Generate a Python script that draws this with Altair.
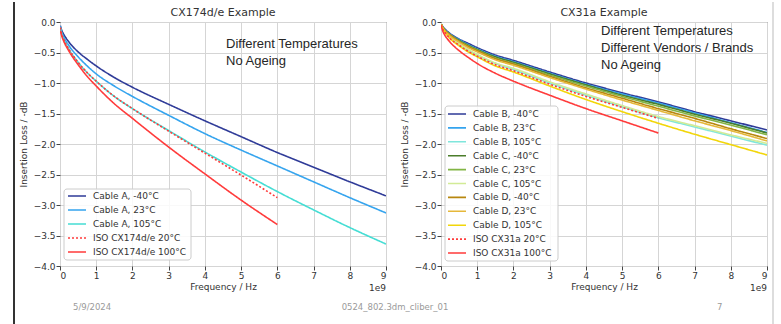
import altair as alt
import pandas as pd

# ---------------- data ----------------
freq = [0.01, 0.05, 0.1, 0.25, 0.5, 0.75, 1, 1.5, 2, 3, 4, 5, 6, 7, 8, 9]   # GHz
freq_iso = [0.01, 0.05, 0.1, 0.25, 0.5, 0.75, 1, 1.5, 2, 3, 4, 5, 6]

left_names = ["Cable A, -40°C", "Cable A, 23°C", "Cable A, 105°C",
              "ISO CX174d/e 20°C", "ISO CX174d/e 100°C"]
a_m40 = [-0.06, -0.14, -0.20, -0.33, -0.49, -0.61, -0.72, -0.91, -1.07, -1.35, -1.62, -1.88, -2.14, -2.38, -2.62, -2.85]
a_23 = [-0.07, -0.17, -0.24, -0.39, -0.57, -0.72, -0.85, -1.05, -1.22, -1.53, -1.83, -2.10, -2.36, -2.62, -2.88, -3.13]
a_105 = [-0.09, -0.20, -0.28, -0.45, -0.66, -0.83, -0.97, -1.22, -1.42, -1.78, -2.13, -2.46, -2.78, -3.08, -3.37, -3.64]
iso174_20 = [-0.09, -0.20, -0.28, -0.45, -0.66, -0.83, -0.97, -1.22, -1.42, -1.79, -2.15, -2.51, -2.88]
iso174_100 = [-0.14, -0.23, -0.31, -0.48, -0.70, -0.89, -1.05, -1.34, -1.58, -2.05, -2.49, -2.92, -3.32]
left_values = [a_m40, a_23, a_105, iso174_20, iso174_100]
left_colors = ["#2f3b98", "#35a4ee", "#45ddd4", "#ff3b3b", "#ff3b3b"]
left_dash = [[1, 0], [1, 0], [1, 0], [2, 2], [1, 0]]

right_names = ["Cable B, -40°C", "Cable B, 23°C", "Cable B, 105°C",
               "Cable C, -40°C", "Cable C, 23°C", "Cable C, 105°C",
               "Cable D, -40°C", "Cable D, 23°C", "Cable D, 105°C",
               "ISO CX31a 20°C", "ISO CX31a 100°C"]
b_m40 = [-0.04, -0.08, -0.11, -0.19, -0.28, -0.35, -0.42, -0.54, -0.63, -0.82, -1.00, -1.16, -1.31, -1.47, -1.62, -1.77]
b_23 = [-0.04, -0.08, -0.12, -0.20, -0.29, -0.37, -0.44, -0.56, -0.65, -0.84, -1.02, -1.18, -1.33, -1.49, -1.65, -1.81]
b_105 = [-0.05, -0.11, -0.16, -0.25, -0.37, -0.46, -0.54, -0.68, -0.78, -1.00, -1.20, -1.39, -1.57, -1.72, -1.87, -2.02]
c_m40 = [-0.04, -0.09, -0.13, -0.21, -0.30, -0.38, -0.45, -0.57, -0.66, -0.85, -1.03, -1.20, -1.35, -1.51, -1.66, -1.82]
c_23 = [-0.04, -0.09, -0.13, -0.21, -0.31, -0.39, -0.46, -0.59, -0.68, -0.87, -1.05, -1.22, -1.38, -1.54, -1.69, -1.85]
c_105 = [-0.05, -0.11, -0.15, -0.25, -0.36, -0.45, -0.53, -0.67, -0.76, -0.98, -1.18, -1.37, -1.55, -1.70, -1.85, -1.99]
d_m40 = [-0.04, -0.09, -0.13, -0.21, -0.32, -0.40, -0.47, -0.60, -0.69, -0.89, -1.08, -1.25, -1.42, -1.58, -1.75, -1.91]
d_23 = [-0.04, -0.10, -0.14, -0.23, -0.33, -0.42, -0.49, -0.62, -0.71, -0.91, -1.10, -1.28, -1.45, -1.62, -1.78, -1.95]
d_105 = [-0.05, -0.11, -0.16, -0.27, -0.39, -0.49, -0.57, -0.72, -0.82, -1.05, -1.27, -1.47, -1.66, -1.84, -2.01, -2.18]
iso31_20 = [-0.05, -0.12, -0.16, -0.27, -0.38, -0.48, -0.56, -0.70, -0.80, -1.02, -1.22, -1.40, -1.58]
iso31_100 = [-0.07, -0.15, -0.21, -0.33, -0.47, -0.58, -0.68, -0.84, -0.97, -1.20, -1.42, -1.62, -1.82]
right_values = [b_m40, b_23, b_105, c_m40, c_23, c_105, d_m40, d_23, d_105, iso31_20, iso31_100]
right_colors = ["#2f3b98", "#35a4ee", "#7fe6dc", "#4b7d2b", "#82b545", "#d2eb96",
                "#b8870f", "#e6b83a", "#f2d60a", "#ff3b3b", "#ff3b3b"]
right_dash = [[1, 0]] * 9 + [[2, 2], [1, 0]]

x_ticks = [0, 1, 2, 3, 4, 5, 6, 7, 8, 9]
y_ticks = [0.0, -0.5, -1.0, -1.5, -2.0, -2.5, -3.0, -3.5, -4.0]

titles = ["CX174d/e Example", "CX31a Example"]
notes = ["Different Temperatures\nNo Ageing",
         "Different Temperatures\nDifferent Vendors / Brands\nNo Ageing"]
footer = ["5/9/2024", "0524_802.3dm_cliber_01", "7"]

W, H = 326, 244
FONT = "DejaVu Sans"
FS = 9


def long_df(names, values):
    rows = []
    for n, vals in zip(names, values):
        fs = freq if len(vals) == len(freq) else freq_iso
        for f, v in zip(fs, vals):
            rows.append({"series": n, "f": f, "il": v})
    return pd.DataFrame(rows)


def text_layer(text, x, y, align="left", size=FS, font=FONT, color="#333", **kw):
    return alt.Chart(pd.DataFrame({"t": [text]})).mark_text(
        align=align, baseline="middle", fontSize=size, font=font, color=color, **kw
    ).encode(x=alt.value(x), y=alt.value(y), text="t:N")


def panel(names, values, colors, dashes, title, note, note_xy, leg, extras):
    df = long_df(names, values)
    color_enc = alt.Color("series:N", sort=names,
                          scale=alt.Scale(domain=names, range=colors), legend=None)
    dash_enc = alt.StrokeDash("series:N", sort=names,
                              scale=alt.Scale(domain=names, range=dashes), legend=None)
    axis_common = dict(grid=True, gridColor="#d5d5d5", domain=False,
                       tickSize=4, tickColor="#444", labelPadding=1,
                       labelFontSize=FS, labelColor="#333", labelFont=FONT,
                       titleFontSize=FS, titleFont=FONT, titleColor="#333",
                       titleFontWeight="normal")
    lines = alt.Chart(df).mark_line(strokeWidth=1.6, interpolate="monotone", clip=True).encode(
        x=alt.X("f:Q", scale=alt.Scale(domain=[0, 9], nice=False),
                axis=alt.Axis(values=x_ticks, format="d", title="Frequency / Hz",
                              titlePadding=2, **axis_common)),
        y=alt.Y("il:Q", scale=alt.Scale(domain=[-4, 0], nice=False),
                axis=alt.Axis(values=y_ticks, format=".1f", title="Insertion Loss / -dB",
                              titlePadding=5, **axis_common)),
        color=color_enc,
        strokeDash=dash_enc,
        order=alt.Order("f:Q"),
    )
    # legend built from the series names through a point scale
    leg_df = pd.DataFrame({"series": names})
    row_y = alt.Y("series:N", sort=names, axis=None,
                  scale=alt.Scale(type="point", domain=names, range=[leg["y0"], leg["y1"]], padding=0))
    frame = alt.Chart(pd.DataFrame({"k": [0]})).mark_rect(
        fill="white", fillOpacity=0.85, stroke="#cccccc", strokeWidth=1, cornerRadius=3
    ).encode(x=alt.value(4), x2=alt.value(leg["x2"]), y=alt.value(leg["top"]),
             y2=alt.value(leg["bottom"]))
    symbols = alt.Chart(leg_df).mark_rule(strokeWidth=1.6).encode(
        x=alt.value(leg["sx"]), x2=alt.value(leg["sx"] + 18), y=row_y,
        color=color_enc, strokeDash=dash_enc)
    labels = alt.Chart(leg_df).mark_text(
        align="left", baseline="middle", fontSize=FS, font=FONT, color="#333"
    ).encode(x=alt.value(leg["sx"] + 25), y=row_y, text="series:N")
    legend_layer = alt.layer(frame, symbols, labels)

    note_mark = text_layer(note, note_xy[0], note_xy[1], size=13, font="Liberation Sans",
                           color="#262626", lineBreak="\n", lineHeight=17)
    offset = text_layer("1e9", W, H + 22, align="right")
    title_mark = text_layer(title, W / 2, -9, align="center", size=11)
    layers = [lines, note_mark, offset, title_mark] + extras + [legend_layer]
    return alt.layer(*layers).properties(width=W, height=H).resolve_scale(y="independent")


def footer_text(text, x, align):
    return text_layer(text, x, 285, align=align, size=8.5, color="#9a9a9a")


left_border = alt.Chart(pd.DataFrame({"k": [0]})).mark_rule(color="#333", strokeWidth=2).encode(
    x=alt.value(-46), y=alt.value(-20), y2=alt.value(303))
right_border = alt.Chart(pd.DataFrame({"k": [0]})).mark_rule(color="#bbbbbb", strokeWidth=1).encode(
    x=alt.value(332), y=alt.value(-20), y2=alt.value(303))

p1 = panel(left_names, left_values, left_colors, left_dash, titles[0], notes[0],
           (166, 22),
           {"y0": 174, "y1": 230, "top": 167, "bottom": 238, "x2": 131, "sx": 8},
           [footer_text(footer[0], 13, "left"), footer_text(footer[1], 335, "center"), left_border])
p2 = panel(right_names, right_values, right_colors, right_dash, titles[1], notes[1],
           (160, 9),
           {"y0": 92, "y1": 231, "top": 84, "bottom": 239, "x2": 117, "sx": 7},
           [footer_text(footer[2], 276, "left"), right_border])

chart = alt.hconcat(p1, p2, spacing=55, bounds="flush").resolve_scale(
    color="independent", strokeDash="independent"
).properties(
    padding={"left": 12, "top": 0, "right": 0, "bottom": 0}
).configure(background="white").configure_view(stroke="#555", strokeWidth=1)

chart.save("out.html", embed_options={"renderer": "svg", "actions": False})
